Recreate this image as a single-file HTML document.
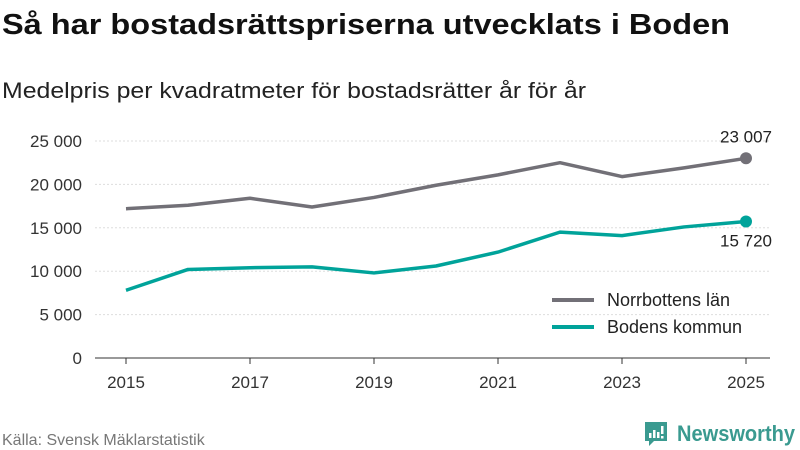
<!DOCTYPE html>
<html><head><meta charset="utf-8"><style>
body{margin:0;background:#fff;}
svg{display:block;font-family:"Liberation Sans","DejaVu Sans",sans-serif;}
</style></head><body>
<svg id="c" width="800" height="450">
<text x="2" y="34" font-size="29" font-weight="bold" fill="#111" textLength="728" lengthAdjust="spacingAndGlyphs">Så har bostadsrättspriserna utvecklats i Boden</text>
<text x="2" y="98" font-size="22" fill="#222" textLength="584" lengthAdjust="spacingAndGlyphs">Medelpris per kvadratmeter för bostadsrätter år för år</text>
<g id="grid"></g><g id="series"></g>
<g>
<line x1="552" y1="300" x2="594" y2="300" stroke="#727077" stroke-width="4"/>
<text x="607" y="306" font-size="18" fill="#222">Norrbottens län</text>
<line x1="552" y1="327" x2="594" y2="327" stroke="#00a39a" stroke-width="4"/>
<text x="607" y="333" font-size="18" fill="#222">Bodens kommun</text>
</g>
<text x="2" y="445" font-size="16" fill="#777">Källa: Svensk Mäklarstatistik</text>
<g>
<path d="M645 422h22v19h-13l-5 5v-5h-4z" fill="#3a9a90"/>
<rect x="649" y="433" width="2.5" height="5" fill="#fff"/><rect x="653" y="430" width="2.5" height="8" fill="#fff"/><rect x="657" y="432" width="2.5" height="6" fill="#fff"/><rect x="661" y="426" width="2.5" height="8" fill="#fff"/><rect x="661" y="436" width="2.5" height="2.5" fill="#fff"/>
<text x="677" y="441" font-size="22" font-weight="600" fill="#3a9a90" textLength="118" lengthAdjust="spacingAndGlyphs">Newsworthy</text>
</g>
</svg>
<script>
const years=[2015,2016,2017,2018,2019,2020,2021,2022,2023,2024,2025];
const norrbotten=[17200,17600,18400,17400,18500,19900,21100,22500,20900,21900,23007];
const boden=[7800,10200,10400,10500,9800,10600,12200,14500,14100,15100,15720];
const yTicks=[0,5000,10000,15000,20000,25000];
const xTicks=[2015,2017,2019,2021,2023,2025];
const NS="http://www.w3.org/2000/svg";
const x=v=>126+(v-2015)*62;
const y=v=>358-v*217/25000;
const fmt=v=>String(v).replace(/\B(?=(\d{3})+(?!\d))/g,"\u00a0");
function mk(t,a,p){const e=document.createElementNS(NS,t);for(const k in a)e.setAttribute(k,a[k]);p.appendChild(e);return e;}
const g=document.getElementById('grid'),s=document.getElementById('series');
yTicks.forEach(v=>{
 const l=mk('line',{x1:95,x2:770,y1:y(v),y2:y(v),stroke:v?'#ddd':'#333','stroke-width':1,'stroke-dasharray':v?'2,2':'none'},g);
 
 
 const t=mk('text',{x:82,y:y(v)+6,'font-size':17,fill:'#333','text-anchor':'end'},g);t.textContent=fmt(v);
 
 
});
xTicks.forEach(v=>{
 const l=mk('line',{x1:x(v),x2:x(v),y1:358,y2:364,stroke:'#333'},g);
 
 
 const t=mk('text',{x:x(v),y:388,'font-size':17,fill:'#333','text-anchor':'middle'},g);t.textContent=v;
 
 
});
function line(data,color,name,labY){
 const p=mk('polyline',{points:data.map((v,i)=>x(years[i])+','+y(v)).join(' '),fill:'none',stroke:color,'stroke-width':3.5,'stroke-linejoin':'round'},s);
 
 
 const n=data.length-1;
 const c=mk('circle',{cx:x(years[n]),cy:y(data[n]),r:6,fill:color},s);
 
 
 const t=mk('text',{x:x(years[n]),y:y(data[n])+labY,'font-size':17,fill:'#222','text-anchor':'middle'},s);t.textContent=fmt(data[n]);
 
 
}
line(norrbotten,'#727077','norrbotten',-16);
line(boden,'#00a39a','boden',25);
</script>
</body></html>
